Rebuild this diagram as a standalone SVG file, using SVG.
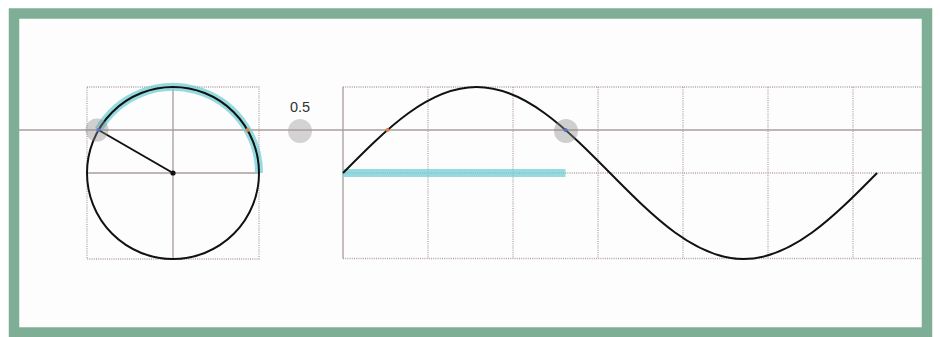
<svg xmlns="http://www.w3.org/2000/svg" width="940" height="337" viewBox="0 0 940 337">
<style>
.frame{fill:#fdfdfd;stroke:#7fae97;stroke-width:10.5}
.axis{stroke:#a89c9c;stroke-width:1.3;fill:none}
.dot{stroke:#b5a2a2;stroke-width:1.3;stroke-dasharray:1 1.2;fill:none}
.curve{stroke:#111;stroke-width:2;fill:none}
.hl{stroke:#72cdd4;stroke-opacity:0.75;stroke-width:8;fill:none}
.halo{fill:#8a8a8a;fill-opacity:0.4}
.lbl{font-family:"Liberation Sans",Arial,sans-serif;font-size:14.5px;fill:#333;text-anchor:middle}
</style>
<rect width="940" height="337" fill="#ffffff"/>
<rect class="frame" x="14" y="13.5" width="913" height="319"/>
<g id="grid">
  <rect class="dot" x="87" y="87" width="172" height="172"/>
  <line class="axis" x1="173" y1="87" x2="173" y2="259"/>
  <line class="axis" x1="87" y1="173" x2="259" y2="173"/>
  <line class="dot" x1="343" y1="87" x2="922" y2="87"/>
  <line class="dot" x1="343" y1="173" x2="922" y2="173"/>
  <line class="dot" x1="343" y1="258.5" x2="922" y2="258.5"/>
  <line class="dot" x1="428" y1="87" x2="428" y2="258.5"/>
  <line class="dot" x1="513" y1="87" x2="513" y2="258.5"/>
  <line class="dot" x1="598" y1="87" x2="598" y2="258.5"/>
  <line class="dot" x1="683" y1="87" x2="683" y2="258.5"/>
  <line class="dot" x1="768" y1="87" x2="768" y2="258.5"/>
  <line class="dot" x1="853" y1="87" x2="853" y2="258.5"/>
  <line class="axis" x1="343" y1="87" x2="343" y2="258.5"/>
</g>
<g id="label">
  <circle cx="300" cy="131" r="12" fill="#d3d3d3"/>
  <text class="lbl" x="300" y="112">0.5</text>
</g>
<g id="level-line">
  <line class="axis" x1="19" y1="130" x2="922" y2="130"/>
</g>
<g id="circle">
  <path class="hl" d="M259 173 A86 86 0 0 0 98.5 130"/>
  <circle class="curve" cx="173" cy="173" r="86"/>
  <line class="curve" x1="173" y1="173" x2="98.5" y2="130"/>
  <circle cx="173" cy="173" r="2.6" fill="#111"/>
  <circle cx="247.5" cy="130" r="2" fill="#e0804a"/>
  <circle class="halo" cx="97" cy="130" r="11.5"/>
  <circle cx="98.5" cy="130" r="2" fill="#5b6fc0"/>
</g>
<g id="sine">
  <line class="hl" x1="343" y1="173" x2="565.5" y2="173" stroke-width="7"/>
  <path class="curve" d="M343 173 C386.54 128.94 428.2 87 476.52 87 C524.84 87 566.49 128.94 610.04 173 C653.58 217.06 695.23 259 743.55 259 C791.87 259 833.53 217.06 877.07 173"/>
  <circle cx="387.5" cy="130" r="2" fill="#e0804a"/>
  <circle class="halo" cx="566" cy="131" r="12"/>
  <circle cx="565.5" cy="130" r="2" fill="#5b6fc0"/>
</g>
</svg>
